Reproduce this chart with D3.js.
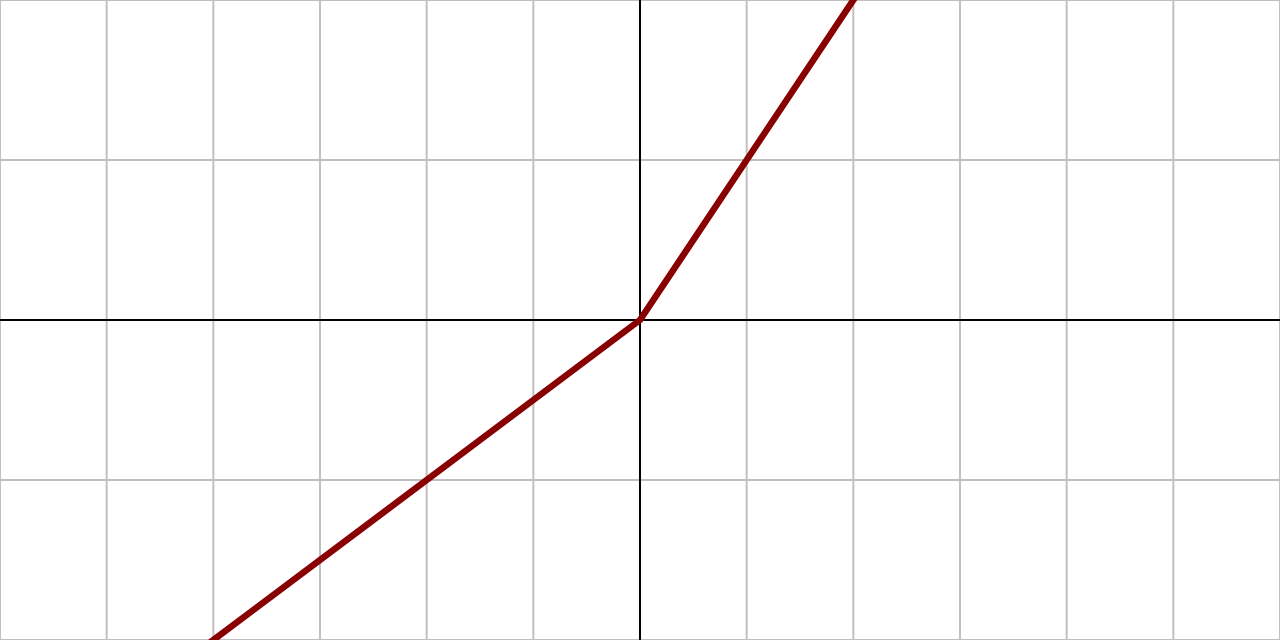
<!DOCTYPE html>
<html>
<head>
  <meta charset="utf8">
  <title>piecewise linear</title>
  <style>
  * { margin: 0; padding: 0; }
  body { background: #fff; overflow: hidden; }
  svg { display: block; }
  </style>
</head>
<body>
  <script src="https://cdn.jsdelivr.net/npm/d3@7"></script>
  <script>
  //Data
  var xTicks = [-6, -5, -4, -3, -2, -1, 0, 1, 2, 3, 4, 5, 6];
  var yTicks = [-2, -1, 0, 1, 2];
  var lineX = [-6, 0, 3];
  var lineY = [-3, 0, 3];

  var w = 1280;
  var h = 640;

  var xScale = d3.scaleLinear().domain([-6, 6]).range([0, w]);
  var yScale = d3.scaleLinear().domain([-2, 2]).range([h, 0]);

  var svg = d3.select("body")
    .append("svg")
    .attr("width", w)
    .attr("height", h);

  //Grid
  svg.append("g")
    .selectAll("line")
    .data(xTicks)
    .enter()
    .append("line")
    .attr("x1", function(d) { return xScale(d); })
    .attr("x2", function(d) { return xScale(d); })
    .attr("y1", 0)
    .attr("y2", h)
    .attr("stroke", "#c0c0c0")
    .attr("stroke-width", 2);

  svg.append("g")
    .selectAll("line")
    .data(yTicks)
    .enter()
    .append("line")
    .attr("y1", function(d) { return yScale(d); })
    .attr("y2", function(d) { return yScale(d); })
    .attr("x1", 0)
    .attr("x2", w)
    .attr("stroke", "#c0c0c0")
    .attr("stroke-width", 2);

  //Axes
  svg.append("line")
    .attr("x1", xScale(0)).attr("x2", xScale(0))
    .attr("y1", 0).attr("y2", h)
    .attr("stroke", "#000").attr("stroke-width", 2);
  svg.append("line")
    .attr("x1", 0).attr("x2", w)
    .attr("y1", yScale(0)).attr("y2", yScale(0))
    .attr("stroke", "#000").attr("stroke-width", 2);

  //Curve
  var pts = lineX.map(function(x, i) { return [x, lineY[i]]; });
  var line = d3.line()
    .x(function(d) { return xScale(d[0]); })
    .y(function(d) { return yScale(d[1]); });

  svg.append("path")
    .datum(pts)
    .attr("d", line)
    .attr("fill", "none")
    .attr("stroke", "#880000")
    .attr("stroke-width", 6.5)
    .attr("stroke-linejoin", "round");
  </script>
</body>
</html>
